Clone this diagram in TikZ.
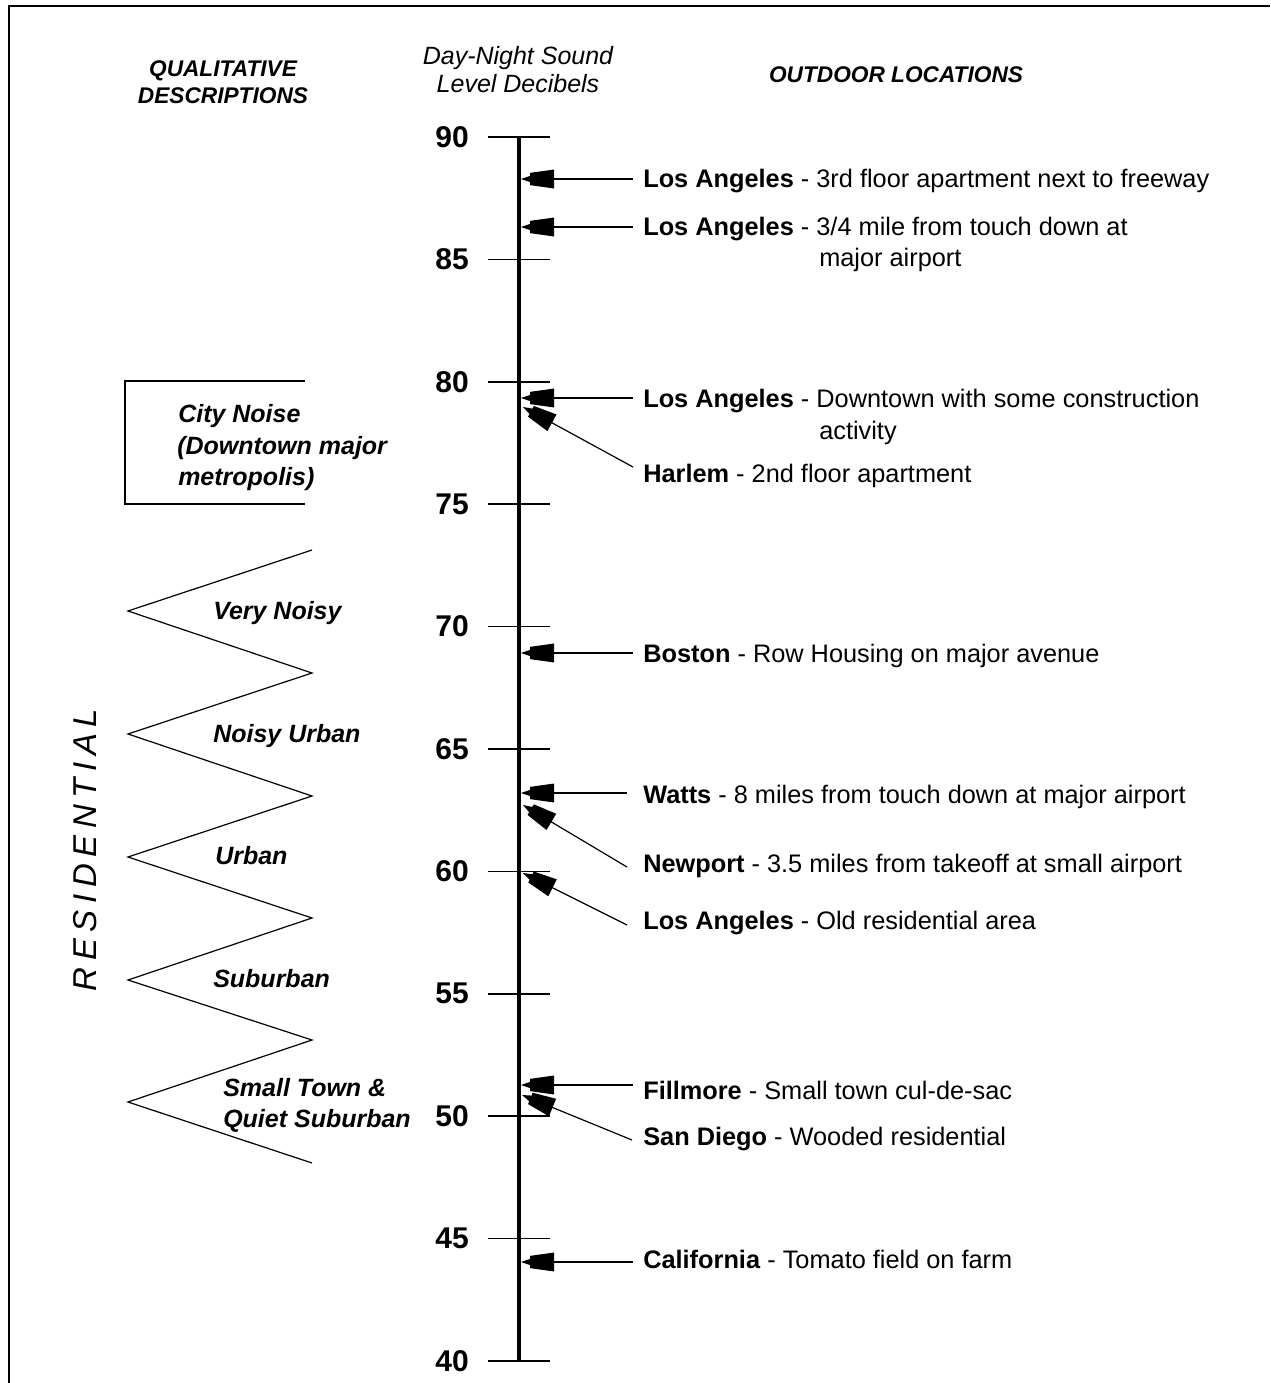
\documentclass[tikz,border=0pt]{standalone}
\usepackage{fontspec}
\setmainfont{Liberation Sans}
\usetikzlibrary{arrows.meta}
\newcommand\lsp{\kern0.2em}
\pgfdeclarearrow{
  name = StepTri,
  setup code = {
    \pgfarrowssettipend{0pt}
    \pgfarrowssetlineend{-8pt}
    \pgfarrowssetbackend{-24.75pt}
    \pgfarrowshullpoint{0pt}{0pt}
    \pgfarrowsupperhullpoint{-24.75pt}{7.1pt}
  },
  drawing code = {
    \pgfpathmoveto{\pgfqpoint{0pt}{0pt}}
    \pgfpathlineto{\pgfqpoint{-6.75pt}{2.3pt}}
    \pgfpathlineto{\pgfqpoint{-6.75pt}{4.6pt}}
    \pgfpathlineto{\pgfqpoint{-24.75pt}{7.1pt}}
    \pgfpathlineto{\pgfqpoint{-24.75pt}{-7.1pt}}
    \pgfpathlineto{\pgfqpoint{-6.75pt}{-4.6pt}}
    \pgfpathlineto{\pgfqpoint{-6.75pt}{-2.3pt}}
    \pgfpathclose
    \pgfusepathqfill
  }
}
\begin{document}
\begin{tikzpicture}[x=0.75pt,y=-0.75pt,
  entry/.style={anchor=base west,inner sep=0pt,font=\fontsize{19}{23}\selectfont},
  num/.style={anchor=east,inner sep=0pt,font=\bfseries\fontsize{22.5}{27}\selectfont},
  qual/.style={anchor=base west,inner sep=0pt,font=\bfseries\itshape\fontsize{18.75}{23}\selectfont},
  hdr/.style={anchor=base,inner sep=0pt,font=\bfseries\itshape\fontsize{17}{20}\selectfont},
  hdrb/.style={anchor=base,inner sep=0pt,font=\itshape\fontsize{18.75}{22}\selectfont},
  axisline/.style={line width=2.3pt},
  tickline/.style={line width=1.3pt},
  frameline/.style={line width=1.6pt},
  zig/.style={line width=0.9pt,line join=miter},
  ptr/.style={line width=1.1pt,-StepTri},
  dptr/.style={line width=0.9pt,-StepTri}
]
\useasboundingbox (0,0) rectangle (1270,1383);
% frame
\coordinate (fbl) at (9,1383);
\coordinate (ftl) at (9,6);
\coordinate (ftr) at (1270,6);
\draw[frameline] (fbl) -- (ftl) -- (ftr);

% headers
\node[hdr] (h1) at (223,77) {QUALITATIVE};
\node[hdr] (h2) at (223,104) {DESCRIPTIONS};
\node[hdrb] (h3) at (518,65) {Day-Night Sound};
\node[hdrb] (h4) at (518,93) {Level Decibels};
\node[hdr] (h5) at (896,83) {OUTDOOR LOCATIONS};

% axis
\coordinate (atop) at (519,137);
\coordinate (abot) at (519,1361);
\draw[axisline] (atop) -- (abot);
\foreach \v [count=\i from 0] in {90,85,80,75,70,65,60,55,50,45,40}{
  \coordinate (tl\i) at (488,137+\i*122.4);
  \coordinate (tr\i) at (550,137+\i*122.4);
  \draw[tickline] (tl\i) -- (tr\i);
  \node[num] (n\i) at (469,137+\i*122.4) {\v};
}

% city noise bracket
\coordinate (c1) at (305,381);
\coordinate (c2) at (125,381);
\coordinate (c3) at (125,504);
\coordinate (c4) at (305,504);
\draw[line width=1.1pt] (c1) -- (c2) -- (c3) -- (c4);
\node[qual] (cn1) at (178,422) {City Noise};
\node[qual] (cn2) at (177,454) {(Downtown major};
\node[qual] (cn3) at (178,485) {metropolis)};

% zigzag
\coordinate (z0) at (312,550);
\coordinate (z1) at (128,611);
\coordinate (z2) at (312,673);
\coordinate (z3) at (128,734);
\coordinate (z4) at (312,796);
\coordinate (z5) at (128,857);
\coordinate (z6) at (312,918);
\coordinate (z7) at (128,980);
\coordinate (z8) at (312,1040);
\coordinate (z9) at (128,1102);
\coordinate (z10) at (312,1163);
\draw[zig] (z0) -- (z1) -- (z2) -- (z3) -- (z4) -- (z5) -- (z6) -- (z7) -- (z8) -- (z9) -- (z10);
\node[qual] (q1) at (213,619) {Very Noisy};
\node[qual] (q2) at (213,742) {Noisy Urban};
\node[qual] (q3) at (215,864) {Urban};
\node[qual] (q4) at (213,987) {Suburban};
\node[qual] (q5) at (223,1096) {Small Town \&};
\node[qual] (q6) at (223,1127) {Quiet Suburban};
\node[rotate=90,inner sep=0pt,font=\itshape\fontsize{24.75}{28}\selectfont] (res) at (85,850)
  {R\lsp E\lsp S\lsp I\lsp D\lsp E\lsp N\lsp T\lsp I\lsp A\lsp L};

% entries
\node[entry] (e1) at (643,188) {\textbf{Los Angeles} - 3rd floor apartment next to freeway};
\node[entry] (e2) at (643,236) {\textbf{Los Angeles} - 3/4 mile from touch down at};
\node[entry] (e2b) at (819,267) {major airport};
\node[entry] (e3) at (643,407) {\textbf{Los Angeles} - Downtown with some construction};
\node[entry] (e3b) at (819,439) {activity};
\node[entry] (e4) at (643,482) {\textbf{Harlem} - 2nd floor apartment};
\node[entry] (e5) at (643,662) {\textbf{Boston} - Row Housing on major avenue};
\node[entry] (e6) at (643,803) {\textbf{Watts} - 8 miles from touch down at major airport};
\node[entry] (e7) at (643,872) {\textbf{Newport} - 3.5 miles from takeoff at small airport};
\node[entry] (e8) at (643,929) {\textbf{Los Angeles} - Old residential area};
\node[entry] (e9) at (643,1099) {\textbf{Fillmore} - Small town cul-de-sac};
\node[entry] (e10) at (643,1145) {\textbf{San Diego} - Wooded residential};
\node[entry] (e11) at (643,1268) {\textbf{California} - Tomato field on farm};

% arrow start and tip coordinates
\coordinate (s1) at (633,179);  \coordinate (p1) at (521,179);
\coordinate (s2) at (633,227);  \coordinate (p2) at (521,227);
\coordinate (s3) at (633,398);  \coordinate (p3) at (521,398);
\coordinate (s4) at (633,467);  \coordinate (p4) at (523,407);
\coordinate (s5) at (633,653);  \coordinate (p5) at (521,653);
\coordinate (s6) at (627,793);  \coordinate (p6) at (521,793);
\coordinate (s7) at (627,867);  \coordinate (p7) at (523,805);
\coordinate (s8) at (627,925);  \coordinate (p8) at (523,873);
\coordinate (s9) at (633,1085); \coordinate (p9) at (521,1085);
\coordinate (s10) at (632,1140); \coordinate (p10) at (522,1095);
\coordinate (s11) at (633,1262); \coordinate (p11) at (521,1262);
\foreach \k in {1,2,3,5,6,9,11}{\draw[ptr] (s\k) -- (p\k);}
\foreach \k in {4,7,8,10}{\draw[dptr] (s\k) -- (p\k);}
\end{tikzpicture}
\end{document}
